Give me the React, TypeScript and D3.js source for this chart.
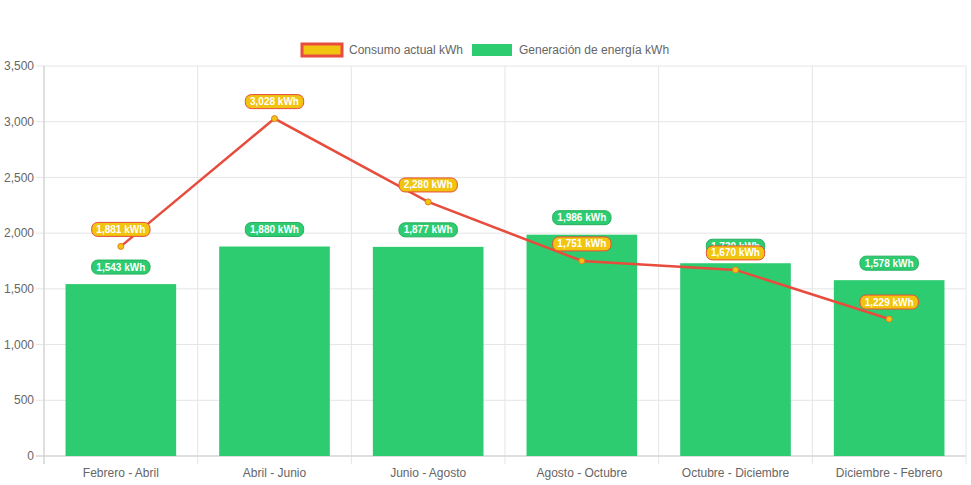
import React from "react";
import * as d3 from "d3";

const categories = ["Febrero - Abril", "Abril - Junio", "Junio - Agosto", "Agosto - Octubre", "Octubre - Diciembre", "Diciembre - Febrero"];
const consumo = [1881, 3028, 2280, 1751, 1670, 1229];
const generacion = [1543, 1880, 1877, 1986, 1730, 1578];
const yTicks = [0, 500, 1000, 1500, 2000, 2500, 3000, 3500];
const seriesNames = ["Consumo actual kWh", "Generación de energía kWh"];

const W = 971, H = 485;
const L = 44, R = 966, T = 66, B = 456;
const FONT = "'Liberation Sans', Arial, Helvetica, sans-serif";
const fmt = d3.format(",");

function Badge({ x, y, text, fill, stroke }: { x: number; y: number; text: string; fill: string; stroke: string }) {
  const w = text.length * 5.6 + 8;
  const h = 14;
  return (
    <g>
      <rect x={x - w / 2} y={y - h / 2} width={w} height={h} rx={6} ry={6} fill={fill} stroke={stroke} strokeWidth={1} />
      <text x={x} y={y} dy="0.35em" textAnchor="middle" fontFamily={FONT} fontSize={10} fontWeight="bold" fill="#fff">{text}</text>
    </g>
  );
}

export default function App() {
  const x = d3.scaleBand<string>().domain(categories).range([L, R]).paddingInner(0).paddingOuter(0);
  const y = d3.scaleLinear().domain([0, 3500]).range([B, T]);
  const bw = x.bandwidth() * 0.72;
  const cx = (c: string) => (x(c) as number) + x.bandwidth() / 2;
  const line = d3.line<number>().x((_, i) => cx(categories[i])).y((d) => y(d));
  const grid = "#e5e5e5";
  return (
    <svg width={W} height={H} style={{ position: "absolute", left: 0, top: 0 }}>
      {/* horizontal grid */}
      {yTicks.map((t) => (
        <g key={t}>
          <line x1={L - 8} x2={R} y1={y(t)} y2={y(t)} stroke={grid} />
          <text x={L - 10} y={y(t)} dy="0.35em" textAnchor="end" fontFamily={FONT} fontSize={12} fill="#666">{fmt(t)}</text>
        </g>
      ))}
      {/* vertical grid */}
      {categories.map((c, i) => (
        <line key={c} x1={(x(c) as number)} x2={(x(c) as number)} y1={T} y2={B + 8} stroke={grid} />
      ))}
      <line x1={R} x2={R} y1={T} y2={B + 8} stroke={grid} />
      <line x1={L} x2={L} y1={T} y2={B + 8} stroke="#ccc" />
      <line x1={L - 8} x2={R} y1={B} y2={B} stroke="#ccc" />
      {categories.map((c) => (
        <text key={c} x={cx(c)} y={B + 17} dy="0.35em" textAnchor="middle" fontFamily={FONT} fontSize={12} fill="#666">{c}</text>
      ))}
      {/* bars */}
      {generacion.map((v, i) => (
        <rect key={i} x={cx(categories[i]) - bw / 2} y={y(v)} width={bw} height={B - y(v)} fill="#2ecc71" />
      ))}
      {/* line */}
      <path d={line(consumo) || ""} fill="none" stroke="#e74c3c" strokeWidth={2.5} />
      {consumo.map((v, i) => (
        <circle key={i} cx={cx(categories[i])} cy={y(v)} r={3} fill="#f1c40f" stroke="#e67e22" strokeWidth={1} />
      ))}
      {/* labels */}
      {generacion.map((v, i) => (
        <Badge key={"g" + i} x={cx(categories[i])} y={y(v) - 17} text={fmt(v) + " kWh"} fill="#2ecc71" stroke="#27ae60" />
      ))}
      {consumo.map((v, i) => (
        <Badge key={"c" + i} x={cx(categories[i])} y={y(v) - 17} text={fmt(v) + " kWh"} fill="#f1c40f" stroke="#e74c3c" />
      ))}
      {/* legend */}
      <rect x={302} y={44} width={40} height={12} fill="#f1c40f" stroke="#e74c3c" strokeWidth={3} />
      <text x={349} y={50} dy="0.35em" fontFamily={FONT} fontSize={12} fill="#666">{seriesNames[0]}</text>
      <rect x={472} y={44} width={40} height={12} fill="#2ecc71" />
      <text x={519} y={50} dy="0.35em" fontFamily={FONT} fontSize={12} fill="#666">{seriesNames[1]}</text>
    </svg>
  );
}
